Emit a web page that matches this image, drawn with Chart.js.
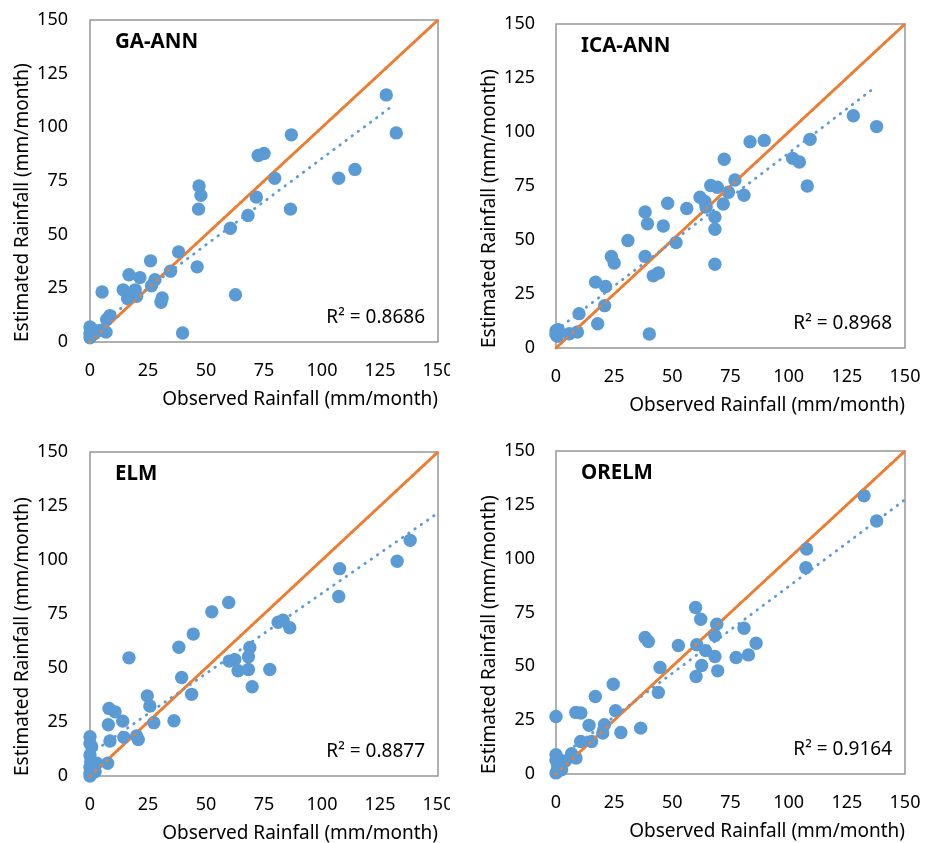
<!DOCTYPE html>
<html lang="en">
<head>
  <meta charset="UTF-8">
  <title>Observed vs Estimated Rainfall</title>
  <style>
    body {
      margin: 0;
      background: #fff;
      width: 935px;
      height: 843px;
      position: relative;
      overflow: hidden;
    }
    .panel { position: absolute; overflow: hidden; }
    canvas { display: block; }
  </style>
</head>
<body>
  <div class="panel" style="left:0;top:0;width:450px;height:425px"><canvas id="gaChart" width="467" height="420"></canvas></div>
  <div class="panel" style="left:467px;top:0;width:468px;height:425px"><canvas id="icaChart" width="468" height="426"></canvas></div>
  <div class="panel" style="left:0;top:425px;width:450px;height:418px"><canvas id="elmChart" width="467" height="429"></canvas></div>
  <div class="panel" style="left:467px;top:425px;width:468px;height:418px"><canvas id="orelmChart" width="468" height="427"></canvas></div>

  <script src="https://cdn.jsdelivr.net/npm/chart.js"></script>
  <script>
    // tick values shared by all panels
    const axisTicks = [0, 25, 50, 75, 100, 125, 150];
    const lineX = [0, 150];
    const lineY = [0, 150];

    // GA-ANN
    const gaObserved  = [127.7, 132, 86.8, 72.5, 75, 79.6, 107.2, 114.2, 71.7, 68.1, 86.4, 60.5, 47, 47.8, 46.8, 38.2, 46.2, 34.7, 26.1, 62.7, 39.9, 16.8, 21.5, 28, 26.5, 14.3, 19.5, 20.1, 16.2, 31.1, 30.6, 5.2, 8.6, 7.2, 6.9, 0, 0, 0.7, 4.3, 1.5, 0, 2];
    const gaEstimated = [115.1, 97.4, 96.5, 86.9, 87.8, 76.3, 76.3, 80.4, 67.5, 58.9, 61.9, 53, 72.7, 68.3, 61.9, 41.9, 35, 33, 37.8, 22, 4.2, 31.3, 30, 29, 26.2, 24.3, 24.3, 21.3, 20.3, 20.5, 18.5, 23.3, 12.3, 10.5, 4.6, 7, 4, 3, 5.4, 5.5, 2, 4];
    const gaTrendX = [0, 131];
    const gaTrendY = [5, 110.5];

    // ICA-ANN
    const icaObserved  = [127.8, 137.8, 109.2, 83.4, 89.5, 72.3, 101.7, 104.6, 108, 76.9, 80.8, 66.5, 69.3, 74.1, 71.9, 61.9, 64, 64.5, 68.3, 68.3, 68.3, 56.2, 48, 38.3, 39.3, 46.1, 51.6, 30.9, 38.3, 23.8, 25, 41.8, 44, 17, 21.3, 20.9, 9.9, 17.9, 40.1, 9.2, 5.7, 1, 0, 0.6, 0];
    const icaEstimated = [107.5, 102.5, 96.6, 95.5, 96.1, 87.4, 87.8, 86.1, 75, 77.8, 70.7, 75.2, 74.4, 72.1, 66.7, 69.8, 67.8, 65.2, 60.6, 55, 38.8, 64.6, 67, 63, 57.5, 56.5, 48.8, 49.8, 42.4, 42.4, 39.3, 33.4, 34.7, 30.5, 28.5, 19.6, 15.9, 11.2, 6.5, 7.4, 6.6, 8.5, 6.2, 5.4, 8];
    const icaTrendX = [0, 137.5];
    const icaTrendY = [8.2, 121];

    // ELM
    const elmObserved  = [138, 132.4, 107.6, 107.2, 81.1, 83.2, 86.1, 59.8, 52.5, 44.5, 38.3, 16.8, 68.9, 68.3, 60, 62.4, 63.8, 68.3, 77.5, 69.9, 39.5, 43.8, 24.7, 25.8, 27.5, 36.2, 8.2, 10.8, 7.9, 14.1, 14.6, 20.1, 20.8, 8.6, 7.6, 0, 0, 0.7, 0, 0.3, 2.2, 0, 0, 2.9, 0, 1];
    const elmEstimated = [109.1, 99.4, 96, 83.1, 71.2, 72.1, 68.6, 80.3, 76, 65.7, 59.6, 54.7, 59.5, 55.2, 53.2, 53.9, 48.7, 49.3, 49.3, 41.3, 45.6, 37.8, 37.1, 32.4, 24.7, 25.6, 31.3, 29.7, 23.7, 25.4, 17.9, 18.5, 16.9, 16.2, 5.9, 18.2, 15.1, 13.6, 9.7, 6.6, 2, 1.2, 0, 5.9, 4, 3];
    const elmTrendX = [0, 150];
    const elmTrendY = [10.2, 121.8];

    // ORELM
    const orelmObserved  = [132.4, 137.8, 107.7, 107.4, 60, 62.2, 69.1, 68.3, 80.8, 86, 38.3, 39.7, 52.6, 60.5, 64.3, 68.3, 77.4, 82.7, 62.6, 44.7, 69.5, 60.2, 44, 24.6, 16.9, 8.5, 10.7, 25.6, 14.2, 20.8, 20.1, 27.9, 36.4, 10.6, 15.3, 0, 8.6, 6.7, 0, 0.6, 2.4, 0, 0.7, 0, 4];
    const orelmEstimated = [129.2, 117.5, 104.5, 95.8, 77.3, 71.9, 69.6, 64.3, 67.7, 60.7, 63.4, 61.5, 59.7, 60, 57.3, 54.6, 54.1, 55.3, 50.4, 49.5, 47.9, 45.3, 37.9, 41.7, 36, 28.6, 28.3, 29.4, 22.6, 22.9, 19, 19.3, 21.3, 15.1, 15.1, 26.7, 7.4, 9.4, 9, 5.1, 2, 0.5, 2.8, 6.5, 6];
    const orelmTrendX = [0, 149.5];
    const orelmTrendY = [6.5, 127];

    const FONT = '"Noto Sans", "DejaVu Sans", sans-serif';
    const BLUE = '#5b9bd5';
    const ORANGE = '#ed7d31';

    function pares(xs, ys) {
      return xs.map((x, i) => ({ x: x, y: ys[i] }));
    }

    // frame + panel name + R² text
    const decorPlugin = {
      id: 'decor',
      beforeDatasetsDraw(chart) {
        const { ctx, chartArea: a } = chart;
        ctx.save();
        ctx.strokeStyle = '#969696';
        ctx.lineWidth = 1.5;
        ctx.strokeRect(a.left, a.top, a.right - a.left, a.bottom - a.top);
        ctx.restore();
      },
      afterDatasetsDraw(chart, args, opts) {
        const { ctx, chartArea: a } = chart;
        ctx.save();
        ctx.fillStyle = '#000';
        ctx.textBaseline = 'middle';
        ctx.font = 'bold 20.5px ' + FONT;
        ctx.textAlign = 'left';
        ctx.fillText(opts.name, a.left + 25, a.top + 22);
        ctx.font = '19px ' + FONT;
        ctx.textAlign = 'right';
        ctx.fillText(opts.r2, a.right - 13, a.bottom - 24);
        ctx.restore();
      }
    };

    function criarGrafico(id, p) {
      const tickFont = { family: FONT, size: 18 };
      const titleFont = { family: FONT, size: 19 };
      return new Chart(document.getElementById(id), {
        type: 'scatter',
        data: {
          datasets: [
            {
              // 1:1 line, under the points
              data: pares(lineX, lineY),
              showLine: true,
              borderColor: ORANGE,
              borderWidth: 3,
              pointRadius: 0,
              clip: false,
              order: 4
            },
            {
              data: pares(p.obs, p.est),
              backgroundColor: BLUE,
              borderWidth: 0,
              pointRadius: 6.7,
              clip: false,
              order: 3
            },
            {
              // linear trend line
              data: pares(p.trendX, p.trendY),
              showLine: true,
              borderColor: BLUE,
              borderWidth: 2.8,
              borderDash: [0.5, 7.1],
              borderCapStyle: 'round',
              pointRadius: 0,
              clip: false,
              order: 2
            },
            {
              // dotted trend of the 1:1 series, shows over the points
              data: pares(lineX, lineY),
              showLine: true,
              borderColor: ORANGE,
              borderWidth: 2.8,
              borderDash: [0.5, 7.1],
              borderCapStyle: 'round',
              pointRadius: 0,
              clip: false,
              order: 1
            }
          ]
        },
        options: {
          responsive: false,
          animation: false,
          events: [],
          layout: { padding: { top: p.top, right: p.right, left: 0, bottom: 0 } },
          plugins: {
            legend: { display: false },
            tooltip: { enabled: false },
            decor: { name: p.name, r2: p.r2 }
          },
          scales: {
            x: {
              type: 'linear',
              min: 0,
              max: 150,
              afterBuildTicks: s => { s.ticks = axisTicks.map(v => ({ value: v })); },
              ticks: { color: '#000', font: tickFont, padding: 0, maxRotation: 0, autoSkip: false },
              // tick marks hidden, tickLength only spaces the labels
              grid: { display: false, drawTicks: true, tickLength: 18 },
              border: { display: false },
              title: {
                display: true,
                text: 'Observed Rainfall (mm/month)',
                align: 'end',
                color: '#000',
                font: titleFont,
                padding: { top: 0, bottom: 78 - 58 - 11.4 }
              },
              afterFit: s => { s.height = 78; }
            },
            y: {
              type: 'linear',
              min: 0,
              max: 150,
              afterBuildTicks: s => { s.ticks = axisTicks.map(v => ({ value: v })); },
              ticks: { color: '#000', font: tickFont, padding: 0, autoSkip: false },
              grid: { display: false, drawTicks: true, tickLength: p.tickGap },
              border: { display: false },
              title: {
                display: true,
                text: 'Estimated Rainfall (mm/month)',
                align: 'start',
                color: '#000',
                font: titleFont,
                padding: { top: 23 - 11.4, bottom: 0 }
              },
              afterFit: s => { s.width = p.yWidth; }
            }
          }
        },
        plugins: [decorPlugin]
      });
    }

    criarGrafico('gaChart', { name: 'GA-ANN', r2: 'R² = 0.8686', obs: gaObserved, est: gaEstimated, trendX: gaTrendX, trendY: gaTrendY, top: 20, right: 29, yWidth: 90, tickGap: 22 });
    criarGrafico('icaChart', { name: 'ICA-ANN', r2: 'R² = 0.8968', obs: icaObserved, est: icaEstimated, trendX: icaTrendX, trendY: icaTrendY, top: 24, right: 30, yWidth: 89, tickGap: 21 });
    criarGrafico('elmChart', { name: 'ELM', r2: 'R² = 0.8877', obs: elmObserved, est: elmEstimated, trendX: elmTrendX, trendY: elmTrendY, top: 27, right: 29, yWidth: 90, tickGap: 22 });
    criarGrafico('orelmChart', { name: 'ORELM', r2: 'R² = 0.9164', obs: orelmObserved, est: orelmEstimated, trendX: orelmTrendX, trendY: orelmTrendY, top: 26, right: 30, yWidth: 89, tickGap: 21 });
  </script>
</body>
</html>
